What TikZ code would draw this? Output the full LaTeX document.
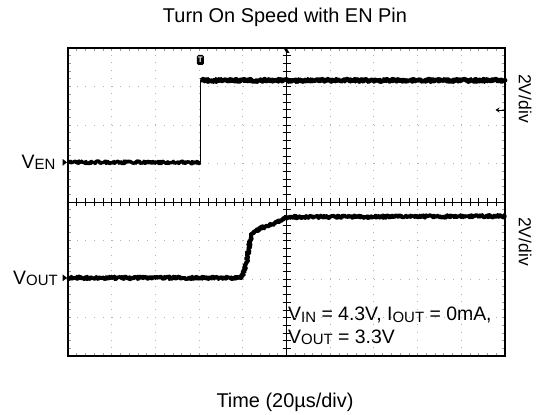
\documentclass[tikz,border=0pt]{standalone}
\usepackage{fontspec}
\setmainfont{Liberation Sans}
\usetikzlibrary{decorations.pathmorphing,arrows.meta}

\newcommand{\idx}[1]{\raisebox{-1.5bp}{\fontsize{15}{15}\selectfont #1}}

\begin{document}
\begin{tikzpicture}[x=1bp,y=1bp,
  lbl/.style={font=\fontsize{19.5}{22}\selectfont, inner sep=0pt},
  frame/.style={line width=1.8bp},
  vdots/.style={gray!60, line width=0.9bp, dash pattern=on 0.9bp off 6.8bp},
  hdots/.style={gray!60, line width=0.9bp, dash pattern=on 0.9bp off 7.84bp},
  tickmark/.style={gray!80, line width=0.7bp},
  trace/.style={line width=3.8bp, line join=round, decorate, decoration={random steps, segment length=0.7bp, amplitude=1.4bp}}]
\useasboundingbox (0,0) rectangle (544,414);

% title and axis text
\node[lbl, font=\fontsize{20}{24}\selectfont, anchor=base] (title) at (285,391.5) {Turn On Speed with EN Pin};
\node[lbl, font=\fontsize{20}{24}\selectfont, anchor=base] (time) at (285,7) {Time (20µs/div)};
\node[lbl, anchor=base west] (ven) at (21.5,246) {V\idx{EN}};
\node[lbl, anchor=base west] (vout) at (13,130) {V\idx{OUT}};
\node[lbl, font=\fontsize{17.5}{20}\selectfont, rotate=-90] (div1) at (525,315.5) {2V/div};
\node[lbl, font=\fontsize{17.5}{20}\selectfont, rotate=-90] (div2) at (525,172.5) {2V/div};
\node[lbl, anchor=base west] (cond1) at (288,93.3) {V\idx{IN} = 4.3V, I\idx{OUT} = 0mA,};
\node[lbl, anchor=base west] (cond2) at (288,70.7) {V\idx{OUT} = 3.3V};

\begin{scope}[shift={(68,212)}, x=43.7bp, y=38.5bp]
% grid
\foreach \i in {1,2,3,4,6,7,8,9}
  \draw[vdots] (\i,-4) -- (\i,4);
\foreach \j in {-3,-2,-1,1,2,3}
  \draw[hdots] (0,\j) -- (10,\j);
% minor ticks on the frame and the centre lines
\foreach \k in {1,...,49} {
  \draw[tickmark] ({\k/5},-4) -- ++(0,3bp);
  \draw[tickmark] ({\k/5},4) -- ++(0,-3bp);
  \draw[line width=0.6bp] ({\k/5},0) ++(0,-4bp) -- ++(0,8bp);
}
\foreach \k in {1,...,39} {
  \draw[tickmark] (0,{-4+\k/5}) -- ++(3bp,0);
  \draw[tickmark] (10,{-4+\k/5}) -- ++(-3bp,0);
  \draw[line width=0.6bp] (5,{-4+\k/5}) ++(-4bp,0) -- ++(8bp,0);
}
\draw[line width=0.8bp] (0,0) -- (10,0);
\draw[line width=0.8bp] (5,-4) -- (5,4);
\draw[frame] (0,-4) rectangle (10,4);

% markers
\fill (5,4) -- ++(-3bp,0) -- ++(3bp,-5bp) -- ++(3bp,0) -- cycle;
\fill (0,1.03) ++(-1bp,0) -- ++(-4.5bp,3.5bp) -- ++(0,-7bp) -- cycle;
\fill (0,-1.97) ++(-1bp,0) -- ++(-4.5bp,3.5bp) -- ++(0,-7bp) -- cycle;
\node[fill=black, text=white, rounded corners=1.5bp, inner sep=0pt, minimum width=7bp, minimum height=10bp, font=\fontsize{8}{8}\selectfont\bfseries] (trig) at (3.03,3.69) {T};
\draw[line width=0.9bp, -{Stealth[length=4bp,width=5bp]}] (10,2.39) ++(-1.5bp,0) -- ++(-8bp,0);

% traces
\draw[trace, line width=3.2bp] (0,1.03) -- (3.03,1.03);
\draw[line width=0.8bp] (3.03,1.03) -- (3.03,3.16);
\draw[trace, line width=4.4bp] (3.03,3.16) -- (10,3.16);
\draw[trace] (0,-1.97) -- (3.93,-1.97) .. controls (4.02,-1.95) and (4.08,-1.6) .. (4.13,-1.25)
  .. controls (4.18,-0.9) and (4.2,-0.8) .. (4.3,-0.74) -- (4.55,-0.62) -- (4.82,-0.51)
  .. controls (4.9,-0.45) and (4.95,-0.4) .. (5.1,-0.39) -- (10,-0.37);
\end{scope}
\end{tikzpicture}
\end{document}
